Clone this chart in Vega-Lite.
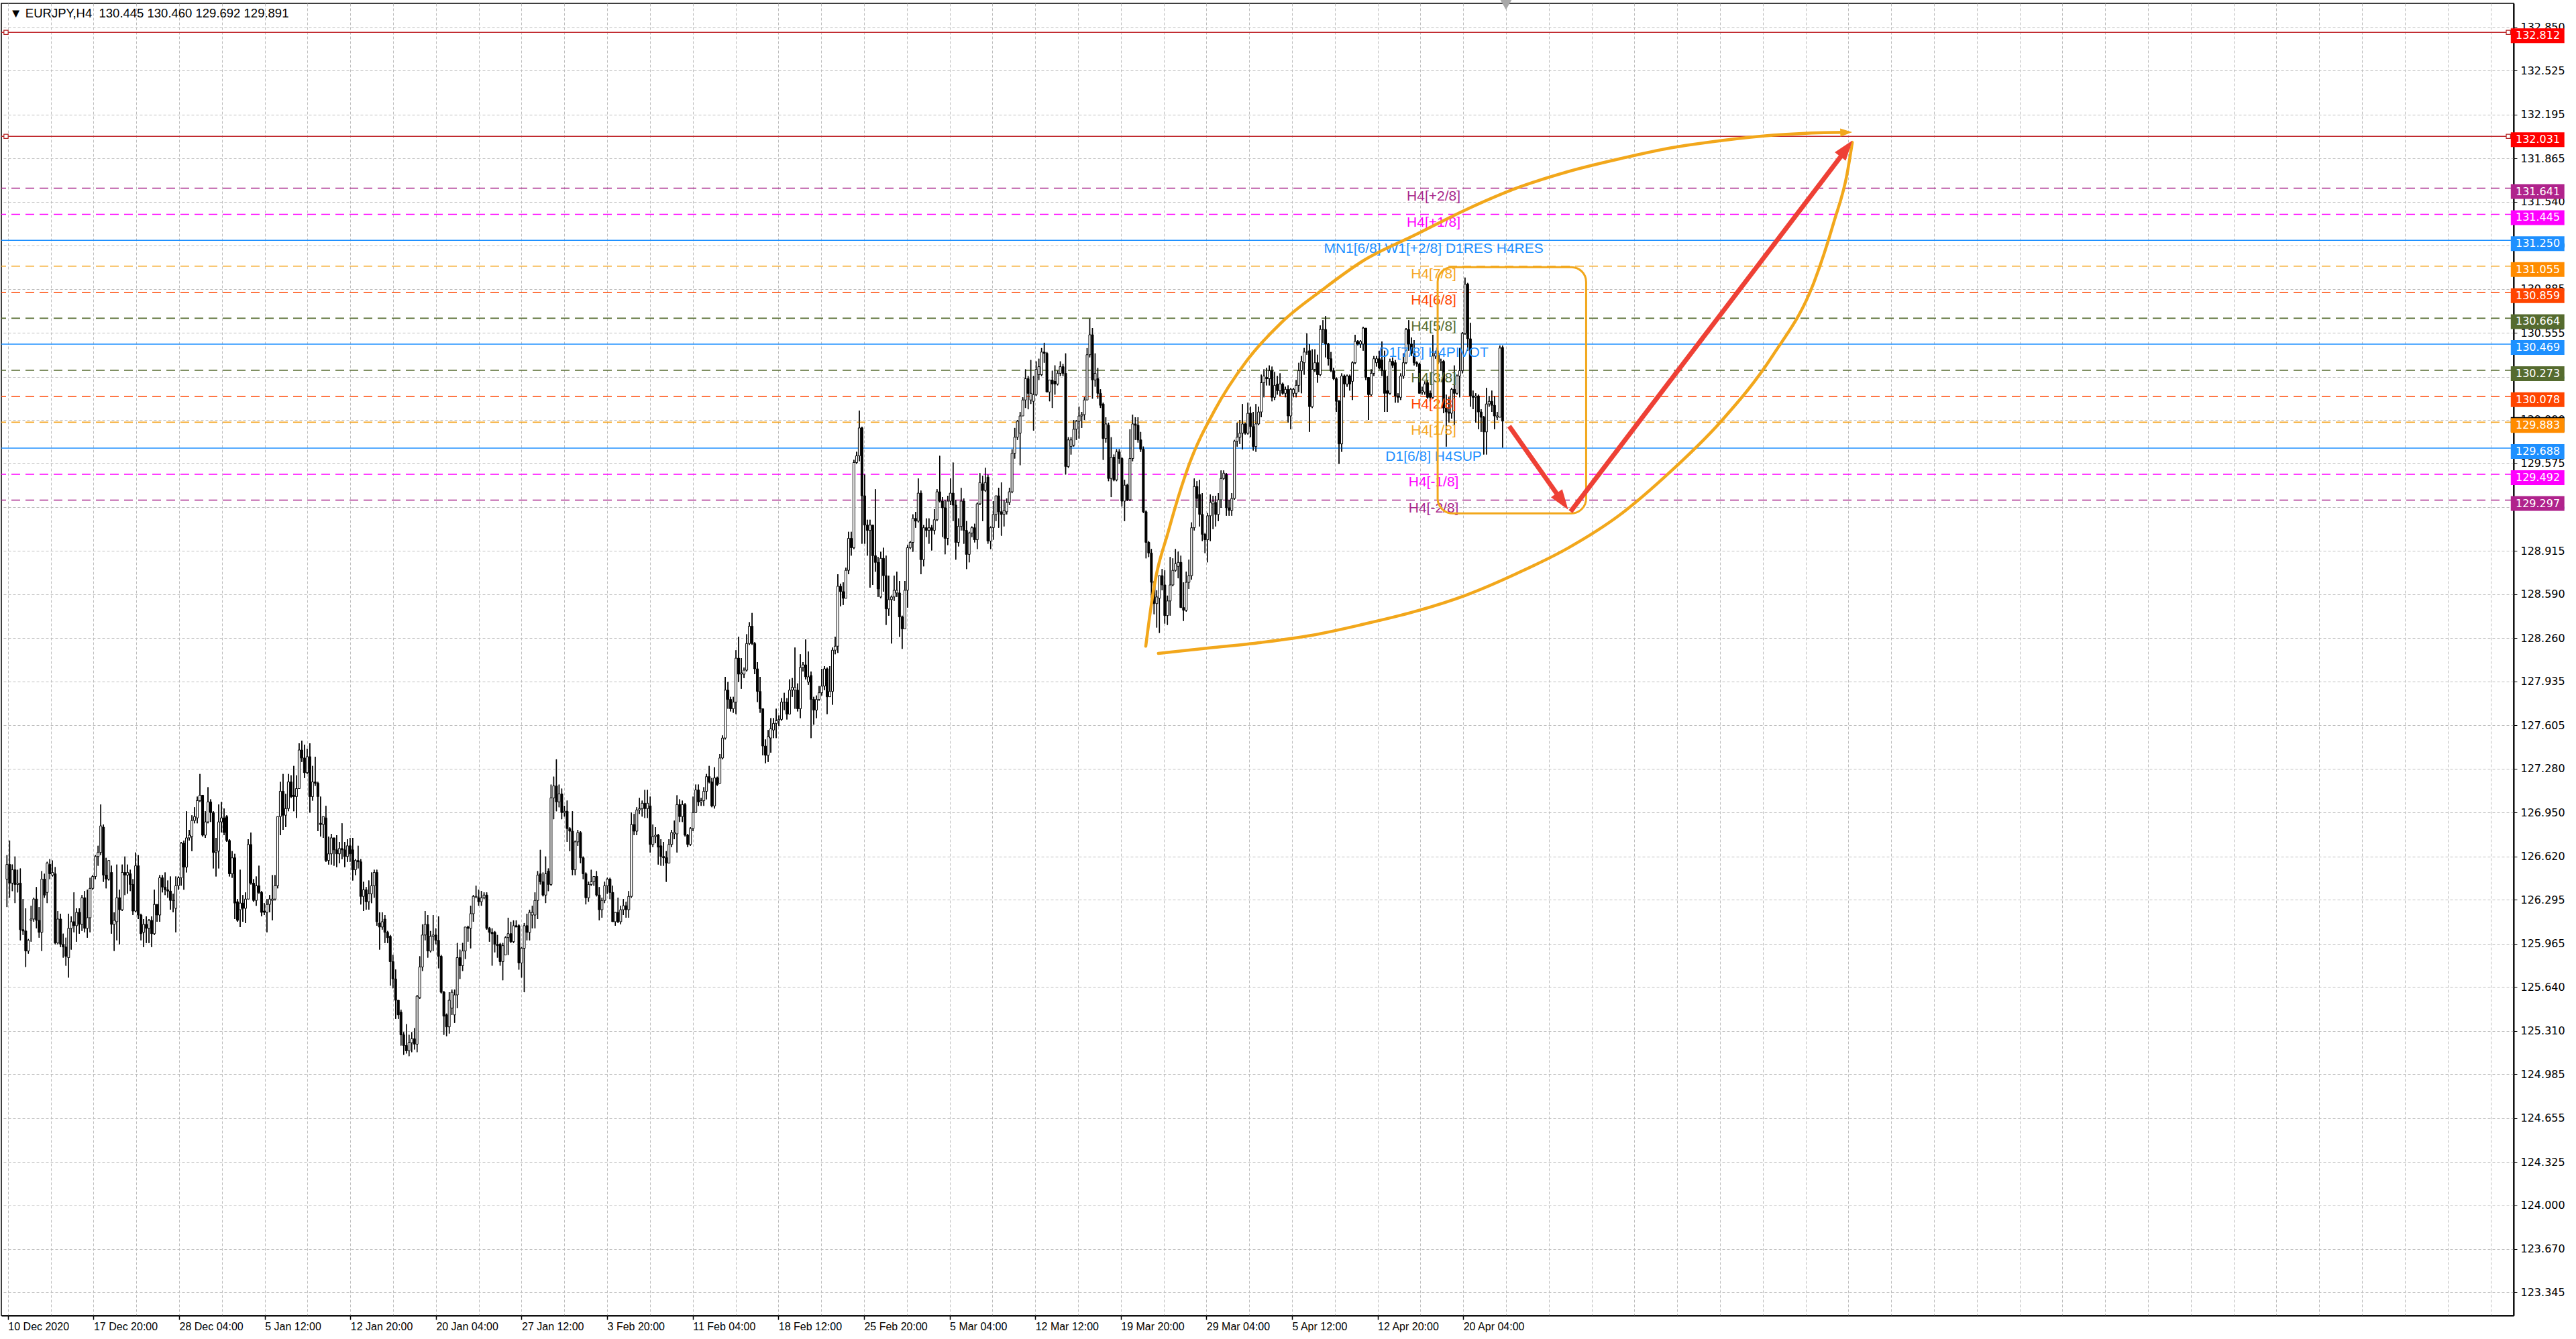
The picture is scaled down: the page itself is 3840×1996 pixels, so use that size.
{
"$schema":"https://vega.github.io/schema/vega-lite/v6.json",
"width":3745,"height":1956,
"autosize":{"type":"none"},
"padding":{"left":2,"top":5,"right":93,"bottom":35},
"background":"#FFFFFF",
"config":{"view":{"stroke":"#000000","strokeWidth":1.5}},
"datasets":{
"lv":[
{"p":129.891,"k":"K","t":""},
{"p":132.812,"k":"R","t":""},
{"p":132.031,"k":"R","t":""},
{"p":131.641,"k":"P","t":"H4[+2/8]"},
{"p":131.445,"k":"M","t":"H4[+1/8]"},
{"p":131.25,"k":"BT","t":"MN1[6/8] W1[+2/8] D1RES H4RES"},
{"p":131.055,"k":"O","t":"H4[7/8]"},
{"p":130.859,"k":"OR","t":"H4[6/8]"},
{"p":130.664,"k":"G","t":"H4[5/8]"},
{"p":130.469,"k":"B","t":"D1[7/8] H4PIVOT"},
{"p":130.273,"k":"G","t":"H4[3/8]"},
{"p":130.078,"k":"OR","t":"H4[2/8]"},
{"p":129.883,"k":"O","t":"H4[1/8]"},
{"p":129.688,"k":"B","t":"D1[6/8] H4SUP"},
{"p":129.492,"k":"M","t":"H4[-1/8]"},
{"p":129.297,"k":"P","t":"H4[-2/8]"}
],
"curves":[
{"s":"u","n":0,"i":424.9,"p":128.2},{"s":"u","n":1,"i":427.7,"p":128.611},{"s":"u","n":2,"i":433.5,"p":129.075},{"s":"u","n":3,"i":441.1,"p":129.567},{"s":"u","n":4,"i":450.7,"p":129.976},{"s":"u","n":5,"i":462.1,"p":130.332},{"s":"u","n":6,"i":475.5,"p":130.632},{"s":"u","n":7,"i":490.8,"p":130.878},{"s":"u","n":8,"i":506.1,"p":131.097},{"s":"u","n":9,"i":525.2,"p":131.288},{"s":"u","n":10,"i":544.3,"p":131.479},{"s":"u","n":11,"i":563.4,"p":131.643},{"s":"u","n":12,"i":582.5,"p":131.766},{"s":"u","n":13,"i":601.7,"p":131.862},{"s":"u","n":14,"i":620.7,"p":131.944},{"s":"u","n":15,"i":639.8,"p":131.999},{"s":"u","n":16,"i":658.9,"p":132.039},{"s":"u","n":17,"i":678.0,"p":132.059},{"s":"u","n":18,"i":686.5,"p":132.061},
{"s":"l","n":0,"i":429.6,"p":128.146},{"s":"l","n":1,"i":448.8,"p":128.187},{"s":"l","n":2,"i":467.9,"p":128.228},{"s":"l","n":3,"i":486.9,"p":128.282},{"s":"l","n":4,"i":506.1,"p":128.365},{"s":"l","n":5,"i":525.2,"p":128.46},{"s":"l","n":6,"i":544.3,"p":128.583},{"s":"l","n":7,"i":563.4,"p":128.747},{"s":"l","n":8,"i":582.5,"p":128.938},{"s":"l","n":9,"i":601.6,"p":129.184},{"s":"l","n":10,"i":620.7,"p":129.512},{"s":"l","n":11,"i":639.8,"p":129.895},{"s":"l","n":12,"i":658.9,"p":130.386},{"s":"l","n":13,"i":674.2,"p":130.933},{"s":"l","n":14,"i":681.8,"p":131.397},{"s":"l","n":15,"i":686.6,"p":131.753},{"s":"l","n":16,"i":688.5,"p":131.985}
],
"arrows":[
{"a":1,"n":0,"i":560.5,"p":129.853},{"a":1,"n":1,"i":581.0,"p":129.267},
{"a":2,"n":0,"i":583.4,"p":129.211},{"a":2,"n":1,"i":687.2,"p":131.958}
],
"heads":[
{"h":"r1","i":579.8,"p":129.303},{"h":"r2","i":685.7,"p":131.924},{"h":"o","i":685.7,"p":132.06}
],
"box":[{"i0":533.8,"i1":589.2,"p0":131.048,"p1":129.198}],
"anchors":[{"i":-0.35,"p":132.812},{"i":933.3,"p":132.812},{"i":-0.35,"p":132.031},{"i":933.3,"p":132.031}],
"shift":[{"i":559.3,"p":133.02}],
"hdr":[{"t":"▼ EURJPY,H4\u00a0 130.445 130.460 129.692 129.891"}],
"bars":[
{"i":0,"o":126.45,"h":126.63,"l":126.24,"c":126.56},
{"i":1,"o":126.56,"h":126.74,"l":126.31,"c":126.42},
{"i":2,"o":126.42,"h":126.56,"l":126.36,"c":126.52},
{"i":3,"o":126.52,"h":126.62,"l":126.27,"c":126.41},
{"i":4,"o":126.41,"h":126.52,"l":126.35,"c":126.42},
{"i":5,"o":126.42,"h":126.53,"l":125.99,"c":126.07},
{"i":6,"o":126.07,"h":126.3,"l":126.03,"c":126.06},
{"i":7,"o":126.06,"h":126.23,"l":125.79,"c":125.91},
{"i":8,"o":125.91,"h":126.0,"l":125.89,"c":125.99},
{"i":9,"o":126.14,"h":126.25,"l":125.98,"c":126.15},
{"i":10,"o":126.15,"h":126.31,"l":126.13,"c":126.3},
{"i":11,"o":126.3,"h":126.39,"l":126.08,"c":126.14},
{"i":12,"o":126.14,"h":126.24,"l":126.01,"c":126.05},
{"i":13,"o":126.05,"h":126.51,"l":125.91,"c":126.45},
{"i":14,"o":126.45,"h":126.49,"l":126.31,"c":126.33},
{"i":15,"o":126.35,"h":126.58,"l":126.27,"c":126.57},
{"i":16,"o":126.56,"h":126.6,"l":126.45,"c":126.49},
{"i":17,"o":126.48,"h":126.59,"l":126.47,"c":126.5},
{"i":18,"o":126.49,"h":126.54,"l":125.96,"c":125.97},
{"i":19,"o":125.97,"h":126.21,"l":125.96,"c":126.15},
{"i":20,"o":126.15,"h":126.19,"l":125.94,"c":125.96},
{"i":21,"o":125.96,"h":126.04,"l":125.86,"c":125.94},
{"i":22,"o":125.94,"h":126.01,"l":125.8,"c":125.87},
{"i":23,"o":125.86,"h":126.19,"l":125.71,"c":126.08},
{"i":24,"o":126.08,"h":126.17,"l":125.92,"c":126.13},
{"i":25,"o":126.13,"h":126.35,"l":126.05,"c":126.1},
{"i":26,"o":126.1,"h":126.23,"l":125.98,"c":126.2},
{"i":27,"o":126.2,"h":126.23,"l":126.04,"c":126.11},
{"i":28,"o":126.11,"h":126.33,"l":126.06,"c":126.31},
{"i":29,"o":126.31,"h":126.36,"l":126.05,"c":126.08},
{"i":30,"o":126.08,"h":126.37,"l":126.01,"c":126.16},
{"i":31,"o":126.16,"h":126.46,"l":126.05,"c":126.38},
{"i":32,"o":126.38,"h":126.48,"l":126.37,"c":126.47},
{"i":33,"o":126.47,"h":126.63,"l":126.45,"c":126.62},
{"i":34,"o":126.62,"h":126.7,"l":126.55,"c":126.65},
{"i":35,"o":126.65,"h":127.01,"l":126.63,"c":126.85},
{"i":36,"o":126.84,"h":126.86,"l":126.43,"c":126.48},
{"i":37,"o":126.48,"h":126.61,"l":126.38,"c":126.45},
{"i":38,"o":126.45,"h":126.59,"l":126.44,"c":126.59},
{"i":39,"o":126.5,"h":126.55,"l":126.04,"c":126.11},
{"i":40,"o":126.11,"h":126.2,"l":125.91,"c":126.14},
{"i":41,"o":126.13,"h":126.56,"l":125.99,"c":126.31},
{"i":42,"o":126.31,"h":126.37,"l":125.96,"c":126.22},
{"i":43,"o":126.22,"h":126.56,"l":126.21,"c":126.5},
{"i":44,"o":126.5,"h":126.62,"l":126.33,"c":126.48},
{"i":45,"o":126.48,"h":126.56,"l":126.34,"c":126.5},
{"i":46,"o":126.49,"h":126.52,"l":126.36,"c":126.41},
{"i":47,"o":126.41,"h":126.45,"l":126.18,"c":126.21},
{"i":48,"o":126.21,"h":126.65,"l":126.2,"c":126.55},
{"i":49,"o":126.55,"h":126.63,"l":126.15,"c":126.18},
{"i":50,"o":126.18,"h":126.19,"l":125.99,"c":126.04},
{"i":51,"o":126.05,"h":126.15,"l":125.94,"c":126.11},
{"i":52,"o":126.11,"h":126.17,"l":125.97,"c":126.08},
{"i":53,"o":126.08,"h":126.15,"l":125.97,"c":126.14},
{"i":54,"o":126.14,"h":126.17,"l":125.94,"c":126.04},
{"i":55,"o":126.04,"h":126.37,"l":126.03,"c":126.26},
{"i":56,"o":126.26,"h":126.26,"l":126.13,"c":126.18},
{"i":57,"o":126.18,"h":126.48,"l":126.13,"c":126.46},
{"i":58,"o":126.46,"h":126.48,"l":126.35,"c":126.39},
{"i":59,"o":126.39,"h":126.5,"l":126.33,"c":126.37},
{"i":60,"o":126.37,"h":126.44,"l":126.31,"c":126.36},
{"i":61,"o":126.36,"h":126.47,"l":126.22,"c":126.29},
{"i":62,"o":126.29,"h":126.34,"l":126.2,"c":126.29},
{"i":63,"o":126.23,"h":126.47,"l":126.05,"c":126.4},
{"i":64,"o":126.4,"h":126.47,"l":126.37,"c":126.46},
{"i":65,"o":126.46,"h":126.73,"l":126.4,"c":126.72},
{"i":66,"o":126.72,"h":126.74,"l":126.37,"c":126.54},
{"i":67,"o":126.54,"h":126.96,"l":126.5,"c":126.76},
{"i":68,"o":126.76,"h":126.82,"l":126.74,"c":126.78},
{"i":69,"o":126.77,"h":126.93,"l":126.66,"c":126.89},
{"i":70,"o":126.89,"h":126.99,"l":126.87,"c":126.92},
{"i":71,"o":126.91,"h":127.07,"l":126.87,"c":127.04},
{"i":72,"o":127.04,"h":127.24,"l":127.03,"c":127.08},
{"i":73,"o":127.08,"h":127.08,"l":126.77,"c":126.78},
{"i":74,"o":126.78,"h":126.96,"l":126.76,"c":126.88},
{"i":75,"o":126.88,"h":127.14,"l":126.87,"c":127.03},
{"i":76,"o":127.03,"h":127.05,"l":126.88,"c":126.95},
{"i":77,"o":126.95,"h":126.96,"l":126.53,"c":126.65},
{"i":78,"o":126.65,"h":126.76,"l":126.47,"c":126.66},
{"i":79,"o":126.66,"h":127.01,"l":126.53,"c":126.88},
{"i":80,"o":126.88,"h":127.03,"l":126.8,"c":126.91},
{"i":81,"o":126.91,"h":126.98,"l":126.78,"c":126.8},
{"i":82,"o":126.92,"h":126.93,"l":126.73,"c":126.74},
{"i":83,"o":126.74,"h":126.75,"l":126.47,"c":126.49},
{"i":84,"o":126.49,"h":126.66,"l":126.46,"c":126.61},
{"i":85,"o":126.61,"h":126.64,"l":126.15,"c":126.27},
{"i":86,"o":126.28,"h":126.3,"l":126.13,"c":126.14},
{"i":87,"o":126.22,"h":126.52,"l":126.09,"c":126.27},
{"i":88,"o":126.27,"h":126.33,"l":126.13,"c":126.23},
{"i":89,"o":126.23,"h":126.35,"l":126.12,"c":126.3},
{"i":90,"o":126.3,"h":126.75,"l":126.3,"c":126.71},
{"i":91,"o":126.71,"h":126.8,"l":126.41,"c":126.42},
{"i":92,"o":126.42,"h":126.45,"l":126.28,"c":126.29},
{"i":93,"o":126.29,"h":126.47,"l":126.25,"c":126.4},
{"i":94,"o":126.4,"h":126.55,"l":126.34,"c":126.35},
{"i":95,"o":126.35,"h":126.36,"l":126.17,"c":126.2},
{"i":96,"o":126.21,"h":126.27,"l":126.18,"c":126.2},
{"i":97,"o":126.2,"h":126.3,"l":126.05,"c":126.26},
{"i":98,"o":126.26,"h":126.33,"l":126.2,"c":126.3},
{"i":99,"o":126.29,"h":126.48,"l":126.14,"c":126.3},
{"i":100,"o":126.3,"h":126.48,"l":126.29,"c":126.4},
{"i":101,"o":126.4,"h":126.92,"l":126.38,"c":126.92},
{"i":102,"o":126.92,"h":127.18,"l":126.78,"c":127.11},
{"i":103,"o":127.11,"h":127.24,"l":126.82,"c":126.93},
{"i":104,"o":126.93,"h":127.09,"l":126.84,"c":126.98},
{"i":105,"o":126.98,"h":127.24,"l":126.96,"c":127.18},
{"i":106,"o":127.18,"h":127.23,"l":127.06,"c":127.07},
{"i":107,"o":127.08,"h":127.3,"l":126.96,"c":127.07},
{"i":108,"o":127.07,"h":127.23,"l":126.91,"c":127.13},
{"i":109,"o":127.13,"h":127.47,"l":127.13,"c":127.42},
{"i":110,"o":127.42,"h":127.49,"l":127.33,"c":127.36},
{"i":111,"o":127.36,"h":127.46,"l":127.21,"c":127.25},
{"i":112,"o":127.25,"h":127.43,"l":127.24,"c":127.37},
{"i":113,"o":127.37,"h":127.47,"l":126.95,"c":127.07},
{"i":114,"o":127.07,"h":127.3,"l":127.04,"c":127.18},
{"i":115,"o":127.18,"h":127.37,"l":127.15,"c":127.17},
{"i":116,"o":127.17,"h":127.18,"l":126.81,"c":127.07},
{"i":117,"o":126.87,"h":127.07,"l":126.77,"c":126.86},
{"i":118,"o":126.86,"h":126.92,"l":126.76,"c":126.92},
{"i":119,"o":126.91,"h":127.0,"l":126.58,"c":126.59},
{"i":120,"o":126.59,"h":126.77,"l":126.56,"c":126.64},
{"i":121,"o":126.64,"h":126.79,"l":126.56,"c":126.76},
{"i":122,"o":126.76,"h":126.76,"l":126.55,"c":126.67},
{"i":123,"o":126.67,"h":126.78,"l":126.54,"c":126.64},
{"i":124,"o":126.64,"h":126.73,"l":126.57,"c":126.68},
{"i":125,"o":126.68,"h":126.87,"l":126.6,"c":126.67},
{"i":126,"o":126.67,"h":126.73,"l":126.54,"c":126.62},
{"i":127,"o":126.62,"h":126.75,"l":126.58,"c":126.7},
{"i":128,"o":126.7,"h":126.76,"l":126.58,"c":126.64},
{"i":129,"o":126.67,"h":126.76,"l":126.44,"c":126.52},
{"i":130,"o":126.52,"h":126.6,"l":126.48,"c":126.59},
{"i":131,"o":126.59,"h":126.7,"l":126.53,"c":126.58},
{"i":132,"o":126.58,"h":126.6,"l":126.26,"c":126.32},
{"i":133,"o":126.32,"h":126.43,"l":126.21,"c":126.37},
{"i":134,"o":126.37,"h":126.39,"l":126.22,"c":126.28},
{"i":135,"o":126.28,"h":126.44,"l":126.22,"c":126.34},
{"i":136,"o":126.34,"h":126.5,"l":126.27,"c":126.4},
{"i":137,"o":126.4,"h":126.52,"l":126.31,"c":126.5},
{"i":138,"o":126.5,"h":126.52,"l":126.1,"c":126.13},
{"i":139,"o":126.12,"h":126.2,"l":125.92,"c":126.09},
{"i":140,"o":126.09,"h":126.2,"l":126.07,"c":126.13},
{"i":141,"o":126.15,"h":126.18,"l":125.97,"c":126.05},
{"i":142,"o":126.05,"h":126.06,"l":125.97,"c":126.01},
{"i":143,"o":126.02,"h":126.03,"l":125.65,"c":125.83},
{"i":144,"o":125.83,"h":125.88,"l":125.63,"c":125.7},
{"i":145,"o":125.7,"h":125.77,"l":125.4,"c":125.54},
{"i":146,"o":125.54,"h":125.54,"l":125.4,"c":125.43},
{"i":147,"o":125.45,"h":125.47,"l":125.2,"c":125.28},
{"i":148,"o":125.28,"h":125.3,"l":125.13,"c":125.2},
{"i":149,"o":125.2,"h":125.36,"l":125.14,"c":125.16},
{"i":150,"o":125.16,"h":125.28,"l":125.12,"c":125.22},
{"i":151,"o":125.22,"h":125.3,"l":125.15,"c":125.25},
{"i":152,"o":125.25,"h":125.33,"l":125.17,"c":125.21},
{"i":153,"o":125.21,"h":125.58,"l":125.15,"c":125.57},
{"i":154,"o":125.56,"h":125.87,"l":125.55,"c":125.79},
{"i":155,"o":125.79,"h":126.11,"l":125.76,"c":126.03},
{"i":156,"o":126.03,"h":126.21,"l":125.99,"c":126.11},
{"i":157,"o":126.11,"h":126.18,"l":125.86,"c":125.91},
{"i":158,"o":125.91,"h":126.06,"l":125.9,"c":126.02},
{"i":159,"o":126.02,"h":126.18,"l":125.91,"c":126.03},
{"i":160,"o":126.03,"h":126.08,"l":125.96,"c":125.99},
{"i":161,"o":125.99,"h":126.17,"l":125.78,"c":125.87},
{"i":162,"o":125.87,"h":125.88,"l":125.59,"c":125.6},
{"i":163,"o":125.6,"h":125.61,"l":125.28,"c":125.42},
{"i":164,"o":125.43,"h":125.44,"l":125.27,"c":125.34},
{"i":165,"o":125.34,"h":125.6,"l":125.29,"c":125.54},
{"i":166,"o":125.48,"h":125.62,"l":125.43,"c":125.6},
{"i":167,"o":125.43,"h":125.62,"l":125.37,"c":125.58},
{"i":168,"o":125.58,"h":125.97,"l":125.48,"c":125.86},
{"i":169,"o":125.86,"h":125.92,"l":125.7,"c":125.8},
{"i":170,"o":125.8,"h":125.97,"l":125.76,"c":125.91},
{"i":171,"o":125.91,"h":126.09,"l":125.85,"c":126.09},
{"i":172,"o":126.09,"h":126.1,"l":125.98,"c":126.08},
{"i":173,"o":126.08,"h":126.25,"l":125.93,"c":126.19},
{"i":174,"o":126.19,"h":126.33,"l":126.13,"c":126.32},
{"i":175,"o":126.31,"h":126.4,"l":126.31,"c":126.32},
{"i":176,"o":126.31,"h":126.37,"l":126.25,"c":126.28},
{"i":177,"o":126.28,"h":126.36,"l":126.25,"c":126.31},
{"i":178,"o":126.31,"h":126.35,"l":126.3,"c":126.33},
{"i":179,"o":126.33,"h":126.35,"l":126.07,"c":126.08},
{"i":180,"o":126.08,"h":126.09,"l":125.98,"c":126.05},
{"i":181,"o":126.05,"h":126.08,"l":125.8,"c":126.04},
{"i":182,"o":126.05,"h":126.06,"l":125.9,"c":125.96},
{"i":183,"o":125.96,"h":126.03,"l":125.86,"c":125.95},
{"i":184,"o":125.96,"h":125.97,"l":125.8,"c":125.83},
{"i":185,"o":125.83,"h":125.97,"l":125.69,"c":125.95},
{"i":186,"o":125.88,"h":126.02,"l":125.88,"c":126.01},
{"i":187,"o":126.01,"h":126.16,"l":125.88,"c":126.04},
{"i":188,"o":126.04,"h":126.13,"l":125.97,"c":125.98},
{"i":189,"o":125.98,"h":126.14,"l":125.97,"c":126.1},
{"i":190,"o":126.1,"h":126.14,"l":126.09,"c":126.09},
{"i":191,"o":126.1,"h":126.11,"l":125.77,"c":125.82},
{"i":192,"o":125.82,"h":125.94,"l":125.71,"c":125.93},
{"i":193,"o":125.93,"h":126.12,"l":125.6,"c":126.1},
{"i":194,"o":126.1,"h":126.19,"l":125.99,"c":126.05},
{"i":195,"o":126.05,"h":126.22,"l":125.99,"c":126.2},
{"i":196,"o":126.18,"h":126.25,"l":126.08,"c":126.2},
{"i":197,"o":126.18,"h":126.35,"l":126.08,"c":126.29},
{"i":198,"o":126.29,"h":126.51,"l":126.15,"c":126.48},
{"i":199,"o":126.49,"h":126.67,"l":126.41,"c":126.43},
{"i":200,"o":126.43,"h":126.5,"l":126.32,"c":126.33},
{"i":201,"o":126.33,"h":126.62,"l":126.27,"c":126.49},
{"i":202,"o":126.51,"h":126.53,"l":126.36,"c":126.41},
{"i":203,"o":126.41,"h":127.16,"l":126.4,"c":127.06},
{"i":204,"o":127.06,"h":127.22,"l":126.9,"c":127.15},
{"i":205,"o":127.15,"h":127.35,"l":126.96,"c":127.03},
{"i":206,"o":127.03,"h":127.16,"l":126.99,"c":127.09},
{"i":207,"o":127.09,"h":127.13,"l":126.9,"c":126.95},
{"i":208,"o":126.95,"h":127.0,"l":126.92,"c":126.96},
{"i":209,"o":126.96,"h":127.04,"l":126.73,"c":126.83},
{"i":210,"o":126.83,"h":126.84,"l":126.66,"c":126.81},
{"i":211,"o":126.81,"h":126.96,"l":126.48,"c":126.52},
{"i":212,"o":126.52,"h":126.74,"l":126.48,"c":126.73},
{"i":213,"o":126.73,"h":126.82,"l":126.7,"c":126.8},
{"i":214,"o":126.8,"h":126.81,"l":126.57,"c":126.61},
{"i":215,"o":126.61,"h":126.62,"l":126.45,"c":126.49},
{"i":216,"o":126.49,"h":126.5,"l":126.26,"c":126.31},
{"i":217,"o":126.31,"h":126.43,"l":126.28,"c":126.41},
{"i":218,"o":126.41,"h":126.52,"l":126.4,"c":126.43},
{"i":219,"o":126.43,"h":126.47,"l":126.4,"c":126.47},
{"i":220,"o":126.47,"h":126.51,"l":126.32,"c":126.33},
{"i":221,"o":126.33,"h":126.39,"l":126.14,"c":126.22},
{"i":222,"o":126.22,"h":126.31,"l":126.16,"c":126.29},
{"i":223,"o":126.29,"h":126.43,"l":126.27,"c":126.4},
{"i":224,"o":126.4,"h":126.46,"l":126.34,"c":126.45},
{"i":225,"o":126.45,"h":126.46,"l":126.3,"c":126.35},
{"i":226,"o":126.35,"h":126.4,"l":126.13,"c":126.13},
{"i":227,"o":126.13,"h":126.2,"l":126.1,"c":126.2},
{"i":228,"o":126.2,"h":126.31,"l":126.12,"c":126.13},
{"i":229,"o":126.13,"h":126.25,"l":126.11,"c":126.22},
{"i":230,"o":126.22,"h":126.3,"l":126.18,"c":126.25},
{"i":231,"o":126.25,"h":126.28,"l":126.16,"c":126.22},
{"i":232,"o":126.22,"h":126.36,"l":126.16,"c":126.32},
{"i":233,"o":126.32,"h":126.95,"l":126.31,"c":126.86},
{"i":234,"o":126.86,"h":126.94,"l":126.78,"c":126.81},
{"i":235,"o":126.81,"h":126.99,"l":126.78,"c":126.97},
{"i":236,"o":126.97,"h":127.06,"l":126.94,"c":126.98},
{"i":237,"o":126.98,"h":127.04,"l":126.92,"c":127.02},
{"i":238,"o":127.02,"h":127.12,"l":126.91,"c":126.98},
{"i":239,"o":126.98,"h":127.12,"l":126.91,"c":127.02},
{"i":240,"o":127.0,"h":127.07,"l":126.65,"c":126.71},
{"i":241,"o":126.71,"h":126.86,"l":126.69,"c":126.77},
{"i":242,"o":126.77,"h":126.84,"l":126.72,"c":126.78},
{"i":243,"o":126.78,"h":126.79,"l":126.56,"c":126.69},
{"i":244,"o":126.7,"h":126.75,"l":126.55,"c":126.62},
{"i":245,"o":126.62,"h":126.73,"l":126.55,"c":126.61},
{"i":246,"o":126.61,"h":126.66,"l":126.43,"c":126.57},
{"i":247,"o":126.57,"h":126.75,"l":126.57,"c":126.71},
{"i":248,"o":126.71,"h":126.82,"l":126.69,"c":126.8},
{"i":249,"o":126.79,"h":126.89,"l":126.75,"c":126.8},
{"i":250,"o":126.79,"h":127.08,"l":126.65,"c":127.01},
{"i":251,"o":127.01,"h":127.05,"l":126.88,"c":126.92},
{"i":252,"o":126.92,"h":127.04,"l":126.88,"c":127.01},
{"i":253,"o":127.01,"h":127.02,"l":126.77,"c":126.78},
{"i":254,"o":126.78,"h":126.79,"l":126.69,"c":126.71},
{"i":255,"o":126.71,"h":126.84,"l":126.7,"c":126.83},
{"i":256,"o":126.83,"h":127.07,"l":126.81,"c":126.95},
{"i":257,"o":126.95,"h":127.16,"l":126.95,"c":127.12},
{"i":258,"o":127.12,"h":127.16,"l":127.0,"c":127.03},
{"i":259,"o":127.03,"h":127.06,"l":127.0,"c":127.04},
{"i":260,"o":127.04,"h":127.14,"l":127.0,"c":127.11},
{"i":261,"o":127.11,"h":127.24,"l":127.05,"c":127.22},
{"i":262,"o":127.22,"h":127.3,"l":127.17,"c":127.18},
{"i":263,"o":127.18,"h":127.21,"l":126.99,"c":127.0},
{"i":264,"o":127.0,"h":127.29,"l":126.98,"c":127.21},
{"i":265,"o":127.21,"h":127.22,"l":127.15,"c":127.16},
{"i":266,"o":127.17,"h":127.39,"l":127.17,"c":127.36},
{"i":267,"o":127.36,"h":127.53,"l":127.35,"c":127.51},
{"i":268,"o":127.51,"h":127.97,"l":127.5,"c":127.87},
{"i":269,"o":127.87,"h":127.93,"l":127.73,"c":127.8},
{"i":270,"o":127.8,"h":127.82,"l":127.71,"c":127.73},
{"i":271,"o":127.73,"h":127.82,"l":127.7,"c":127.78},
{"i":272,"o":127.78,"h":128.17,"l":127.69,"c":128.11},
{"i":273,"o":128.11,"h":128.27,"l":127.93,"c":127.99},
{"i":274,"o":127.99,"h":128.11,"l":127.88,"c":128.0},
{"i":275,"o":127.99,"h":128.04,"l":127.96,"c":128.02},
{"i":276,"o":128.02,"h":128.29,"l":128.01,"c":128.22},
{"i":277,"o":128.22,"h":128.38,"l":128.21,"c":128.35},
{"i":278,"o":128.35,"h":128.45,"l":128.21,"c":128.22},
{"i":279,"o":128.22,"h":128.23,"l":127.99,"c":128.03},
{"i":280,"o":128.03,"h":128.08,"l":127.78,"c":127.86},
{"i":281,"o":127.86,"h":127.97,"l":127.7,"c":127.73},
{"i":282,"o":127.73,"h":127.73,"l":127.38,"c":127.45},
{"i":283,"o":127.45,"h":127.5,"l":127.32,"c":127.38},
{"i":284,"o":127.38,"h":127.57,"l":127.33,"c":127.52},
{"i":285,"o":127.51,"h":127.66,"l":127.4,"c":127.58},
{"i":286,"o":127.57,"h":127.66,"l":127.51,"c":127.62},
{"i":287,"o":127.62,"h":127.73,"l":127.51,"c":127.64},
{"i":288,"o":127.64,"h":127.68,"l":127.6,"c":127.65},
{"i":289,"o":127.65,"h":127.81,"l":127.64,"c":127.78},
{"i":290,"o":127.78,"h":127.85,"l":127.72,"c":127.78},
{"i":291,"o":127.78,"h":127.81,"l":127.65,"c":127.69},
{"i":292,"o":127.69,"h":127.95,"l":127.69,"c":127.87},
{"i":293,"o":127.87,"h":127.96,"l":127.82,"c":127.89},
{"i":294,"o":127.87,"h":128.19,"l":127.73,"c":127.89},
{"i":295,"o":127.87,"h":127.92,"l":127.71,"c":127.73},
{"i":296,"o":127.73,"h":128.14,"l":127.66,"c":128.04},
{"i":297,"o":128.04,"h":128.08,"l":128.01,"c":128.06},
{"i":298,"o":128.06,"h":128.25,"l":127.95,"c":127.97},
{"i":299,"o":127.93,"h":128.16,"l":127.91,"c":127.97},
{"i":300,"o":127.98,"h":128.01,"l":127.51,"c":127.8},
{"i":301,"o":127.8,"h":127.82,"l":127.61,"c":127.72},
{"i":302,"o":127.72,"h":127.83,"l":127.66,"c":127.8},
{"i":303,"o":127.8,"h":127.9,"l":127.79,"c":127.85},
{"i":304,"o":127.85,"h":128.03,"l":127.83,"c":127.9},
{"i":305,"o":127.9,"h":128.05,"l":127.87,"c":128.03},
{"i":306,"o":128.03,"h":128.04,"l":127.69,"c":127.82},
{"i":307,"o":127.82,"h":128.05,"l":127.82,"c":127.86},
{"i":308,"o":127.86,"h":128.19,"l":127.76,"c":128.17},
{"i":309,"o":128.17,"h":128.27,"l":128.14,"c":128.2},
{"i":310,"o":128.2,"h":128.74,"l":128.15,"c":128.65},
{"i":311,"o":128.65,"h":128.67,"l":128.5,"c":128.61},
{"i":312,"o":128.61,"h":128.68,"l":128.51,"c":128.56},
{"i":313,"o":128.56,"h":128.79,"l":128.56,"c":128.77},
{"i":314,"o":128.77,"h":129.06,"l":128.74,"c":129.01},
{"i":315,"o":129.01,"h":129.06,"l":128.88,"c":128.94},
{"i":316,"o":128.94,"h":129.6,"l":128.93,"c":129.58},
{"i":317,"o":129.58,"h":129.66,"l":129.57,"c":129.63},
{"i":318,"o":129.63,"h":129.97,"l":129.59,"c":129.84},
{"i":319,"o":129.84,"h":129.85,"l":128.97,"c":129.33},
{"i":320,"o":129.33,"h":129.49,"l":128.97,"c":129.11},
{"i":321,"o":129.11,"h":129.15,"l":128.88,"c":129.07},
{"i":322,"o":129.07,"h":129.15,"l":128.64,"c":129.11},
{"i":323,"o":129.11,"h":129.11,"l":128.66,"c":128.88},
{"i":324,"o":128.88,"h":129.38,"l":128.76,"c":128.83},
{"i":325,"o":128.83,"h":128.87,"l":128.57,"c":128.63},
{"i":326,"o":128.57,"h":128.91,"l":128.56,"c":128.86},
{"i":327,"o":128.86,"h":128.94,"l":128.61,"c":128.73},
{"i":328,"o":128.73,"h":128.88,"l":128.36,"c":128.48},
{"i":329,"o":128.48,"h":128.73,"l":128.43,"c":128.55},
{"i":330,"o":128.55,"h":128.58,"l":128.22,"c":128.57},
{"i":331,"o":128.57,"h":128.73,"l":128.54,"c":128.62},
{"i":332,"o":128.6,"h":128.76,"l":128.57,"c":128.62},
{"i":333,"o":128.6,"h":128.69,"l":128.27,"c":128.42},
{"i":334,"o":128.42,"h":128.43,"l":128.18,"c":128.33},
{"i":335,"o":128.33,"h":128.69,"l":128.33,"c":128.62},
{"i":336,"o":128.62,"h":128.96,"l":128.49,"c":128.94},
{"i":337,"o":128.94,"h":128.99,"l":128.93,"c":128.98},
{"i":338,"o":128.98,"h":129.19,"l":128.91,"c":129.16},
{"i":339,"o":129.16,"h":129.21,"l":129.09,"c":129.14},
{"i":340,"o":129.14,"h":129.46,"l":129.13,"c":129.35},
{"i":341,"o":129.35,"h":129.37,"l":128.74,"c":128.85},
{"i":342,"o":128.85,"h":129.11,"l":128.8,"c":129.09},
{"i":343,"o":129.09,"h":129.16,"l":129.02,"c":129.07},
{"i":344,"o":129.07,"h":129.16,"l":128.97,"c":129.09},
{"i":345,"o":129.09,"h":129.11,"l":128.92,"c":129.07},
{"i":346,"o":129.07,"h":129.23,"l":129.04,"c":129.15},
{"i":347,"o":129.15,"h":129.38,"l":129.14,"c":129.36},
{"i":348,"o":129.36,"h":129.63,"l":129.28,"c":129.29},
{"i":349,"o":129.29,"h":129.32,"l":129.02,"c":129.24},
{"i":350,"o":129.24,"h":129.3,"l":128.89,"c":129.01},
{"i":351,"o":129.01,"h":129.33,"l":128.96,"c":129.29},
{"i":352,"o":129.29,"h":129.46,"l":129.26,"c":129.35},
{"i":353,"o":129.35,"h":129.58,"l":129.14,"c":129.26},
{"i":354,"o":129.26,"h":129.3,"l":128.85,"c":128.98},
{"i":355,"o":128.98,"h":129.16,"l":128.95,"c":129.1},
{"i":356,"o":129.1,"h":129.39,"l":129.07,"c":129.29},
{"i":357,"o":129.29,"h":129.31,"l":128.97,"c":129.07},
{"i":358,"o":129.07,"h":129.14,"l":128.78,"c":128.89},
{"i":359,"o":128.89,"h":129.06,"l":128.83,"c":129.05},
{"i":360,"o":129.05,"h":129.1,"l":129.02,"c":129.09},
{"i":361,"o":129.09,"h":129.12,"l":128.98,"c":129.0},
{"i":362,"o":129.0,"h":129.28,"l":128.93,"c":129.27},
{"i":363,"o":129.27,"h":129.5,"l":129.26,"c":129.43},
{"i":364,"o":129.42,"h":129.48,"l":129.14,"c":129.37},
{"i":365,"o":129.37,"h":129.54,"l":129.36,"c":129.43},
{"i":366,"o":129.47,"h":129.49,"l":128.97,"c":128.99},
{"i":367,"o":128.99,"h":129.1,"l":128.93,"c":129.09},
{"i":368,"o":129.09,"h":129.29,"l":129.0,"c":129.19},
{"i":369,"o":129.19,"h":129.33,"l":129.14,"c":129.33},
{"i":370,"o":129.33,"h":129.39,"l":129.09,"c":129.21},
{"i":371,"o":129.21,"h":129.43,"l":129.03,"c":129.19},
{"i":372,"o":129.19,"h":129.3,"l":129.1,"c":129.22},
{"i":373,"o":129.21,"h":129.31,"l":129.19,"c":129.28},
{"i":374,"o":129.28,"h":129.39,"l":129.26,"c":129.36},
{"i":375,"o":129.36,"h":129.68,"l":129.35,"c":129.65},
{"i":376,"o":129.65,"h":129.84,"l":129.61,"c":129.77},
{"i":377,"o":129.77,"h":129.9,"l":129.75,"c":129.89},
{"i":378,"o":129.8,"h":129.96,"l":129.56,"c":129.93},
{"i":379,"o":129.93,"h":130.07,"l":129.93,"c":130.05},
{"i":380,"o":130.05,"h":130.28,"l":129.99,"c":130.21},
{"i":381,"o":130.21,"h":130.23,"l":129.98,"c":130.1},
{"i":382,"o":130.05,"h":130.35,"l":130.02,"c":130.1},
{"i":383,"o":130.04,"h":130.23,"l":129.82,"c":130.09},
{"i":384,"o":130.09,"h":130.34,"l":130.08,"c":130.28},
{"i":385,"o":130.24,"h":130.36,"l":130.2,"c":130.3},
{"i":386,"o":130.24,"h":130.44,"l":130.23,"c":130.41},
{"i":387,"o":130.41,"h":130.48,"l":130.33,"c":130.4},
{"i":388,"o":130.4,"h":130.41,"l":130.11,"c":130.11},
{"i":389,"o":130.11,"h":130.2,"l":130.04,"c":130.2},
{"i":390,"o":130.2,"h":130.27,"l":129.99,"c":130.17},
{"i":391,"o":130.19,"h":130.31,"l":130.09,"c":130.17},
{"i":392,"o":130.17,"h":130.27,"l":130.16,"c":130.25},
{"i":393,"o":130.25,"h":130.34,"l":130.23,"c":130.3},
{"i":394,"o":130.3,"h":130.32,"l":130.23,"c":130.25},
{"i":395,"o":130.25,"h":130.4,"l":129.49,"c":129.55},
{"i":396,"o":129.55,"h":129.77,"l":129.54,"c":129.75},
{"i":397,"o":129.7,"h":129.77,"l":129.64,"c":129.75},
{"i":398,"o":129.71,"h":129.9,"l":129.7,"c":129.83},
{"i":399,"o":129.83,"h":129.9,"l":129.75,"c":129.89},
{"i":400,"o":129.89,"h":130.0,"l":129.76,"c":129.93},
{"i":401,"o":129.93,"h":129.96,"l":129.84,"c":129.94},
{"i":402,"o":129.94,"h":130.07,"l":129.9,"c":130.05},
{"i":403,"o":130.05,"h":130.44,"l":130.05,"c":130.39},
{"i":404,"o":130.39,"h":130.66,"l":130.37,"c":130.54},
{"i":405,"o":130.54,"h":130.59,"l":130.06,"c":130.2},
{"i":406,"o":130.2,"h":130.4,"l":130.15,"c":130.25},
{"i":407,"o":130.21,"h":130.29,"l":130.06,"c":130.1},
{"i":408,"o":130.1,"h":130.13,"l":129.99,"c":130.01},
{"i":409,"o":130.02,"h":130.03,"l":129.6,"c":129.76},
{"i":410,"o":129.76,"h":129.92,"l":129.73,"c":129.87},
{"i":411,"o":129.86,"h":129.88,"l":129.44,"c":129.46},
{"i":412,"o":129.46,"h":129.77,"l":129.32,"c":129.62},
{"i":413,"o":129.62,"h":129.64,"l":129.44,"c":129.45},
{"i":414,"o":129.45,"h":129.68,"l":129.44,"c":129.66},
{"i":415,"o":129.66,"h":129.68,"l":129.57,"c":129.61},
{"i":416,"o":129.61,"h":129.62,"l":129.25,"c":129.29},
{"i":417,"o":129.29,"h":129.45,"l":129.14,"c":129.41},
{"i":418,"o":129.41,"h":129.42,"l":129.29,"c":129.3},
{"i":419,"o":129.3,"h":129.83,"l":129.29,"c":129.61},
{"i":420,"o":129.61,"h":129.94,"l":129.59,"c":129.87},
{"i":421,"o":129.87,"h":129.92,"l":129.75,"c":129.86},
{"i":422,"o":129.86,"h":129.92,"l":129.73,"c":129.75},
{"i":423,"o":129.75,"h":129.81,"l":129.66,"c":129.68},
{"i":424,"o":129.68,"h":129.7,"l":129.2,"c":129.21},
{"i":425,"o":129.21,"h":129.22,"l":128.86,"c":128.98},
{"i":426,"o":128.98,"h":128.99,"l":128.87,"c":128.9},
{"i":427,"o":128.9,"h":128.93,"l":128.56,"c":128.68},
{"i":428,"o":128.68,"h":128.69,"l":128.44,"c":128.52},
{"i":429,"o":128.52,"h":128.62,"l":128.34,"c":128.57},
{"i":430,"o":128.56,"h":128.73,"l":128.3,"c":128.73},
{"i":431,"o":128.73,"h":128.78,"l":128.62,"c":128.66},
{"i":432,"o":128.66,"h":128.77,"l":128.37,"c":128.43},
{"i":433,"o":128.43,"h":128.58,"l":128.36,"c":128.54},
{"i":434,"o":128.54,"h":128.87,"l":128.43,"c":128.66},
{"i":435,"o":128.66,"h":128.86,"l":128.65,"c":128.77},
{"i":436,"o":128.77,"h":128.93,"l":128.76,"c":128.82},
{"i":437,"o":128.8,"h":128.91,"l":128.71,"c":128.83},
{"i":438,"o":128.83,"h":128.88,"l":128.49,"c":128.49},
{"i":439,"o":128.49,"h":128.68,"l":128.39,"c":128.47},
{"i":440,"o":128.47,"h":128.76,"l":128.46,"c":128.68},
{"i":441,"o":128.68,"h":128.85,"l":128.63,"c":128.73},
{"i":442,"o":128.73,"h":129.13,"l":128.7,"c":129.09},
{"i":443,"o":129.09,"h":129.46,"l":129.07,"c":129.4},
{"i":444,"o":129.4,"h":129.44,"l":129.24,"c":129.31},
{"i":445,"o":129.34,"h":129.45,"l":129.1,"c":129.19},
{"i":446,"o":129.19,"h":129.35,"l":128.99,"c":129.04},
{"i":447,"o":129.04,"h":129.05,"l":128.9,"c":129.0},
{"i":448,"o":129.0,"h":129.2,"l":128.83,"c":129.18},
{"i":449,"o":129.18,"h":129.34,"l":128.99,"c":129.28},
{"i":450,"o":129.27,"h":129.33,"l":129.08,"c":129.29},
{"i":451,"o":129.28,"h":129.33,"l":129.1,"c":129.19},
{"i":452,"o":129.19,"h":129.35,"l":129.14,"c":129.3},
{"i":453,"o":129.3,"h":129.52,"l":129.24,"c":129.46},
{"i":454,"o":129.46,"h":129.52,"l":129.45,"c":129.5},
{"i":455,"o":129.49,"h":129.5,"l":129.18,"c":129.24},
{"i":456,"o":129.24,"h":129.3,"l":129.18,"c":129.22},
{"i":457,"o":129.22,"h":129.35,"l":129.18,"c":129.31},
{"i":458,"o":129.31,"h":129.75,"l":129.3,"c":129.74},
{"i":459,"o":129.74,"h":129.88,"l":129.7,"c":129.77},
{"i":460,"o":129.77,"h":129.9,"l":129.72,"c":129.8},
{"i":461,"o":129.8,"h":130.02,"l":129.68,"c":129.87},
{"i":462,"o":129.87,"h":129.88,"l":129.79,"c":129.8},
{"i":463,"o":129.8,"h":130.03,"l":129.79,"c":129.95},
{"i":464,"o":129.95,"h":130.0,"l":129.77,"c":129.85},
{"i":465,"o":129.85,"h":129.96,"l":129.67,"c":129.7},
{"i":466,"o":129.7,"h":130.02,"l":129.66,"c":129.87},
{"i":467,"o":129.87,"h":130.0,"l":129.86,"c":129.96},
{"i":468,"o":129.96,"h":130.24,"l":129.92,"c":130.18},
{"i":469,"o":130.18,"h":130.28,"l":130.07,"c":130.23},
{"i":470,"o":130.22,"h":130.29,"l":130.16,"c":130.21},
{"i":471,"o":130.21,"h":130.31,"l":130.16,"c":130.27},
{"i":472,"o":130.27,"h":130.3,"l":130.04,"c":130.07},
{"i":473,"o":130.07,"h":130.26,"l":130.05,"c":130.16},
{"i":474,"o":130.17,"h":130.23,"l":130.09,"c":130.12},
{"i":475,"o":130.12,"h":130.25,"l":130.08,"c":130.17},
{"i":476,"o":130.17,"h":130.18,"l":130.09,"c":130.1},
{"i":477,"o":130.1,"h":130.15,"l":130.07,"c":130.13},
{"i":478,"o":130.13,"h":130.16,"l":129.88,"c":129.93},
{"i":479,"o":129.93,"h":130.14,"l":129.83,"c":130.13},
{"i":480,"o":130.1,"h":130.14,"l":130.07,"c":130.13},
{"i":481,"o":130.1,"h":130.2,"l":130.07,"c":130.16},
{"i":482,"o":130.16,"h":130.33,"l":130.11,"c":130.27},
{"i":483,"o":130.27,"h":130.38,"l":130.1,"c":130.34},
{"i":484,"o":130.33,"h":130.44,"l":130.24,"c":130.41},
{"i":485,"o":130.41,"h":130.55,"l":130.39,"c":130.41},
{"i":486,"o":130.42,"h":130.47,"l":129.81,"c":130.0},
{"i":487,"o":130.0,"h":130.43,"l":129.99,"c":130.28},
{"i":488,"o":130.28,"h":130.43,"l":130.26,"c":130.33},
{"i":489,"o":130.33,"h":130.39,"l":130.18,"c":130.24},
{"i":490,"o":130.24,"h":130.61,"l":130.23,"c":130.58},
{"i":491,"o":130.58,"h":130.65,"l":130.48,"c":130.58},
{"i":492,"o":130.58,"h":130.68,"l":130.37,"c":130.47},
{"i":493,"o":130.47,"h":130.48,"l":130.31,"c":130.36},
{"i":494,"o":130.36,"h":130.41,"l":130.26,"c":130.27},
{"i":495,"o":130.27,"h":130.29,"l":130.2,"c":130.21},
{"i":496,"o":130.21,"h":130.22,"l":129.96,"c":130.04},
{"i":497,"o":130.04,"h":130.05,"l":129.57,"c":129.72},
{"i":498,"o":129.72,"h":130.25,"l":129.66,"c":130.23},
{"i":499,"o":130.23,"h":130.24,"l":130.07,"c":130.17},
{"i":500,"o":130.17,"h":130.24,"l":130.15,"c":130.23},
{"i":501,"o":130.23,"h":130.24,"l":130.12,"c":130.17},
{"i":502,"o":130.19,"h":130.34,"l":130.05,"c":130.33},
{"i":503,"o":130.33,"h":130.54,"l":130.32,"c":130.49},
{"i":504,"o":130.49,"h":130.5,"l":130.46,"c":130.47},
{"i":505,"o":130.47,"h":130.5,"l":130.44,"c":130.49},
{"i":506,"o":130.47,"h":130.6,"l":130.42,"c":130.59},
{"i":507,"o":130.59,"h":130.59,"l":130.2,"c":130.22},
{"i":508,"o":130.22,"h":130.22,"l":129.9,"c":130.09},
{"i":509,"o":130.09,"h":130.28,"l":130.08,"c":130.25},
{"i":510,"o":130.25,"h":130.38,"l":130.23,"c":130.36},
{"i":511,"o":130.33,"h":130.38,"l":130.3,"c":130.36},
{"i":512,"o":130.36,"h":130.42,"l":130.28,"c":130.29},
{"i":513,"o":130.35,"h":130.49,"l":130.23,"c":130.27},
{"i":514,"o":130.27,"h":130.42,"l":129.96,"c":130.1},
{"i":515,"o":130.12,"h":130.23,"l":129.96,"c":130.1},
{"i":516,"o":130.1,"h":130.36,"l":130.09,"c":130.34},
{"i":517,"o":130.34,"h":130.37,"l":130.29,"c":130.31},
{"i":518,"o":130.33,"h":130.35,"l":130.03,"c":130.08},
{"i":519,"o":130.08,"h":130.1,"l":130.03,"c":130.07},
{"i":520,"o":130.07,"h":130.25,"l":130.05,"c":130.23},
{"i":521,"o":130.23,"h":130.4,"l":130.21,"c":130.33},
{"i":522,"o":130.33,"h":130.59,"l":130.32,"c":130.58},
{"i":523,"o":130.58,"h":130.65,"l":130.42,"c":130.47},
{"i":524,"o":130.47,"h":130.52,"l":130.38,"c":130.4},
{"i":525,"o":130.4,"h":130.5,"l":130.31,"c":130.33},
{"i":526,"o":130.33,"h":130.34,"l":130.3,"c":130.32},
{"i":527,"o":130.32,"h":130.33,"l":130.1,"c":130.1},
{"i":528,"o":130.11,"h":130.15,"l":130.09,"c":130.12},
{"i":529,"o":130.11,"h":130.19,"l":130.09,"c":130.17},
{"i":530,"o":130.18,"h":130.2,"l":130.06,"c":130.07},
{"i":531,"o":130.1,"h":130.12,"l":130.04,"c":130.07},
{"i":532,"o":130.07,"h":130.54,"l":130.06,"c":130.38},
{"i":533,"o":130.38,"h":130.42,"l":130.36,"c":130.4},
{"i":534,"o":130.4,"h":130.42,"l":130.32,"c":130.34},
{"i":535,"o":130.33,"h":130.36,"l":130.27,"c":130.34},
{"i":536,"o":130.34,"h":130.35,"l":129.95,"c":129.99},
{"i":537,"o":129.99,"h":130.09,"l":129.7,"c":129.96},
{"i":538,"o":129.96,"h":130.07,"l":129.88,"c":129.95},
{"i":539,"o":129.95,"h":130.14,"l":129.91,"c":130.13},
{"i":540,"o":130.13,"h":130.31,"l":129.86,"c":130.1},
{"i":541,"o":130.1,"h":130.24,"l":130.09,"c":130.23},
{"i":542,"o":130.23,"h":130.44,"l":130.07,"c":130.27},
{"i":543,"o":130.27,"h":130.56,"l":130.25,"c":130.55},
{"i":544,"o":130.55,"h":130.97,"l":130.54,"c":130.92},
{"i":545,"o":130.92,"h":130.93,"l":130.42,"c":130.51},
{"i":546,"o":130.51,"h":130.63,"l":130.0,"c":130.08},
{"i":547,"o":130.08,"h":130.12,"l":129.98,"c":130.07},
{"i":548,"o":130.07,"h":130.1,"l":129.88,"c":130.08},
{"i":549,"o":130.08,"h":130.09,"l":129.83,"c":129.96},
{"i":550,"o":129.96,"h":129.98,"l":129.81,"c":129.92},
{"i":551,"o":129.92,"h":129.93,"l":129.64,"c":129.81},
{"i":552,"o":129.81,"h":130.14,"l":129.64,"c":130.02},
{"i":553,"o":130.02,"h":130.08,"l":130.0,"c":130.04},
{"i":554,"o":130.04,"h":130.12,"l":129.96,"c":130.01},
{"i":555,"o":130.01,"h":130.08,"l":129.83,"c":129.93},
{"i":556,"o":129.92,"h":129.96,"l":129.9,"c":129.93},
{"i":557,"o":129.92,"h":130.46,"l":129.92,"c":130.44},
{"i":558,"o":130.445,"h":130.46,"l":129.692,"c":129.891}
]
},
"layer":[
{"data":{"name":"bars"},
 "mark":{"type":"rule","color":"#000000","strokeWidth":1.4},
 "encoding":{
  "x":{"field":"i","type":"quantitative","scale":{"domain":[-0.849,934.0],"nice":false,"zero":false},
   "axis":{"orient":"bottom","title":null,
    "values":[0.36,16.33,32.3,48.27,64.24,80.21,96.18,112.15,128.12,144.09,160.06,176.03,192.0,207.97,223.94,239.91,255.88,271.85,287.82,303.79,319.76,335.73,351.7,367.67,383.64,399.61,415.58,431.55,447.52,463.49,479.46,495.43,511.4,527.37,543.34,559.31,575.28,591.25,607.22,623.19,639.16,655.13,671.1,687.07,703.04,719.01,734.98,750.95,766.92,782.89,798.86,814.83,830.8,846.77,862.74,878.71,894.68,910.65,926.62],
    "labelExpr":"(round((datum.value-0.36)/15.97)%2==0 && datum.value<560) ? ['10 Dec 2020','17 Dec 20:00','28 Dec 04:00','5 Jan 12:00','12 Jan 20:00','20 Jan 04:00','27 Jan 12:00','3 Feb 20:00','11 Feb 04:00','18 Feb 12:00','25 Feb 20:00','5 Mar 04:00','12 Mar 12:00','19 Mar 20:00','29 Mar 04:00','5 Apr 12:00','12 Apr 20:00','20 Apr 04:00'][round((datum.value-0.36)/15.97)/2] : ''",
    "grid":true,"gridDash":[4,3],"gridColor":"#BDBDBD","gridWidth":1,
    "domain":true,"domainColor":"#000000","domainWidth":2,
    "ticks":true,"tickSize":6,"tickColor":"#000000","tickWidth":1.5,
    "tickOpacity":{"condition":{"test":"round((datum.value-0.36)/15.97)%2==0 && datum.value<560","value":1},"value":0},
    "labelAlign":"left","labelBaseline":"top","labelPadding":2,"labelFont":"Liberation Sans","labelFontSize":16,"labelColor":"#000000",
    "labelOverlap":false,"labelFlush":false,"labelBound":false}},
  "y":{"field":"l","type":"quantitative","scale":{"domain":[123.171,133.03],"nice":false,"zero":false},
   "axis":{"orient":"right","title":null,"values":[132.85,132.525,132.195,131.865,131.54,131.21,130.885,130.555,130.225,129.9,129.575,129.245,128.915,128.59,128.26,127.935,127.605,127.28,126.95,126.62,126.295,125.965,125.64,125.31,124.985,124.655,124.325,124.0,123.67,123.345],
    "format":".3f","grid":true,"gridDash":[4,3],"gridColor":"#BDBDBD","gridWidth":1,
    "domain":true,"domainColor":"#000000","domainWidth":2,"ticks":true,"tickSize":5,"tickColor":"#000000",
    "labelPadding":5,"labelFont":"DejaVu Sans","labelFontSize":16,"labelColor":"#000000","labelBaseline":"middle","labelOverlap":false,"labelFlush":false,"labelBound":false}},
  "y2":{"field":"h"}
 }},
{"data":{"name":"lv"},"transform":[{"filter":"datum.k != 'K'"}],
 "mark":{"type":"rule"},
 "encoding":{
  "y":{"field":"p","type":"quantitative"},
  "color":{"field":"k","type":"nominal","legend":null,"scale":{"domain":["R","P","M","BT","B","O","OR","G","K"],"range":["#C0282D","#A8288C","#FF00FF","#1E90FF","#1E90FF","#F5A623","#FF4500","#556B2F","#000000"]}},
  "strokeDash":{"field":"k","type":"nominal","legend":null,"scale":{"domain":["R","P","M","BT","B","O","OR","G","K"],"range":[[1,0],[13,8],[13,8],[1,0],[1,0],[13,8],[13,8],[13,8],[1,0]]}},
  "strokeWidth":{"field":"k","type":"ordinal","legend":null,"scale":{"domain":["R","P","M","BT","B","O","OR","G","K"],"range":[1.5,1.6,1.6,3,1.5,1.6,1.6,1.6,1]}}
 }},
{"data":{"name":"bars"},
 "mark":{"type":"rule","color":"#000000","strokeWidth":1.4},
 "encoding":{
  "x":{"field":"i","type":"quantitative"},
  "y":{"field":"l","type":"quantitative"},
  "y2":{"field":"h"}
 }},
{"data":{"name":"bars"},
 "mark":{"type":"bar","width":3,"stroke":"#000000","strokeWidth":1},
 "encoding":{
  "x":{"field":"i","type":"quantitative"},
  "y":{"field":"o","type":"quantitative"},
  "y2":{"field":"c"},
  "fill":{"condition":{"test":"datum.c >= datum.o","value":"#FFFFFF"},"value":"#000000"}
 }},
{"data":{"name":"lv"},"transform":[{"filter":"datum.t != ''"}],
 "mark":{"type":"text","font":"Liberation Sans","fontSize":21,"align":"center","baseline":"middle","dy":12.5},
 "encoding":{
  "x":{"datum":532.3,"type":"quantitative"},
  "y":{"field":"p","type":"quantitative"},
  "text":{"field":"t"},
  "color":{"field":"k","type":"nominal","legend":null,"scale":{"domain":["R","P","M","BT","B","O","OR","G","K"],"range":["#C0282D","#A8288C","#FF00FF","#1E90FF","#1E90FF","#F5A623","#FF4500","#556B2F","#000000"]}}
 }},
{"data":{"name":"box"},
 "mark":{"type":"rect","fill":null,"fillOpacity":0,"stroke":"#F2A71B","strokeWidth":3,"cornerRadius":22},
 "encoding":{
  "x":{"field":"i0","type":"quantitative"},"x2":{"field":"i1"},
  "y":{"field":"p0","type":"quantitative"},"y2":{"field":"p1"}
 }},
{"data":{"name":"curves"},
 "mark":{"type":"line","color":"#F2A71B","strokeWidth":4.5,"strokeCap":"round","interpolate":"monotone"},
 "encoding":{
  "x":{"field":"i","type":"quantitative"},
  "y":{"field":"p","type":"quantitative"},
  "detail":{"field":"s"},
  "order":{"field":"n","type":"quantitative"}
 }},
{"data":{"name":"heads"},"transform":[{"filter":"datum.h == 'o'"}],
 "mark":{"type":"point","shape":"M0,-1L0.55,0.6L-0.55,0.6Z","filled":true,"color":"#F2A71B","opacity":1,"size":500,"angle":88},
 "encoding":{"x":{"field":"i","type":"quantitative"},"y":{"field":"p","type":"quantitative"}}},
{"data":{"name":"arrows"},
 "mark":{"type":"line","color":"#EE4035","strokeWidth":7,"strokeCap":"butt","strokeJoin":"miter"},
 "encoding":{
  "x":{"field":"i","type":"quantitative"},
  "y":{"field":"p","type":"quantitative"},
  "detail":{"field":"a"},
  "order":{"field":"n","type":"quantitative"}
 }},
{"data":{"name":"heads"},"transform":[{"filter":"datum.h == 'r1'"}],
 "mark":{"type":"point","shape":"M0,-1L0.55,0.6L-0.55,0.6Z","filled":true,"color":"#EE4035","opacity":1,"size":1400,"angle":144.7},
 "encoding":{"x":{"field":"i","type":"quantitative"},"y":{"field":"p","type":"quantitative"}}},
{"data":{"name":"heads"},"transform":[{"filter":"datum.h == 'r2'"}],
 "mark":{"type":"point","shape":"M0,-1L0.55,0.6L-0.55,0.6Z","filled":true,"color":"#EE4035","opacity":1,"size":1400,"angle":37.3},
 "encoding":{"x":{"field":"i","type":"quantitative"},"y":{"field":"p","type":"quantitative"}}},
{"data":{"name":"anchors"},
 "mark":{"type":"point","shape":"square","size":40,"filled":true,"fill":"#FFFFFF","stroke":"#B22222","strokeWidth":1.2,"opacity":1},
 "encoding":{"x":{"field":"i","type":"quantitative"},"y":{"field":"p","type":"quantitative"}}},
{"data":{"name":"lv"},
 "mark":{"type":"rect","yOffset":-6,"y2Offset":16},
 "encoding":{
  "x":{"datum":934.2,"type":"quantitative"},"x2":{"datum":954.2},
  "y":{"field":"p","type":"quantitative"},"y2":{"field":"p"},
  "fill":{"field":"k","type":"nominal","legend":null,"scale":{"domain":["R","P","M","BT","B","O","OR","G","K"],"range":["#FF0000","#B0238C","#FF00FF","#1E90FF","#1E90FF","#FF8C00","#FF4500","#556B2F","#000000"]}}
 }},
{"data":{"name":"lv"},"transform":[{"filter":"datum.k != 'K'"}],
 "mark":{"type":"text","font":"DejaVu Sans","fontSize":16,"align":"left","baseline":"middle","dy":5,"fill":"#FFFFFF"},
 "encoding":{
  "x":{"datum":936.0,"type":"quantitative"},
  "y":{"field":"p","type":"quantitative"},
  "text":{"field":"p","type":"quantitative","format":".3f"}
 }},
{"data":{"name":"shift"},
 "mark":{"type":"point","shape":"triangle-down","size":300,"filled":true,"color":"#A8A8A8","opacity":1},
 "encoding":{"x":{"field":"i","type":"quantitative"},"y":{"field":"p","type":"quantitative"}}},
{"data":{"name":"hdr"},
 "mark":{"type":"text","font":"Liberation Sans","fontSize":18.5,"align":"left","baseline":"middle","fill":"#000000"},
 "encoding":{
  "x":{"datum":1.0,"type":"quantitative"},
  "y":{"datum":132.955,"type":"quantitative"},
  "text":{"field":"t"}
 }}
]
}
